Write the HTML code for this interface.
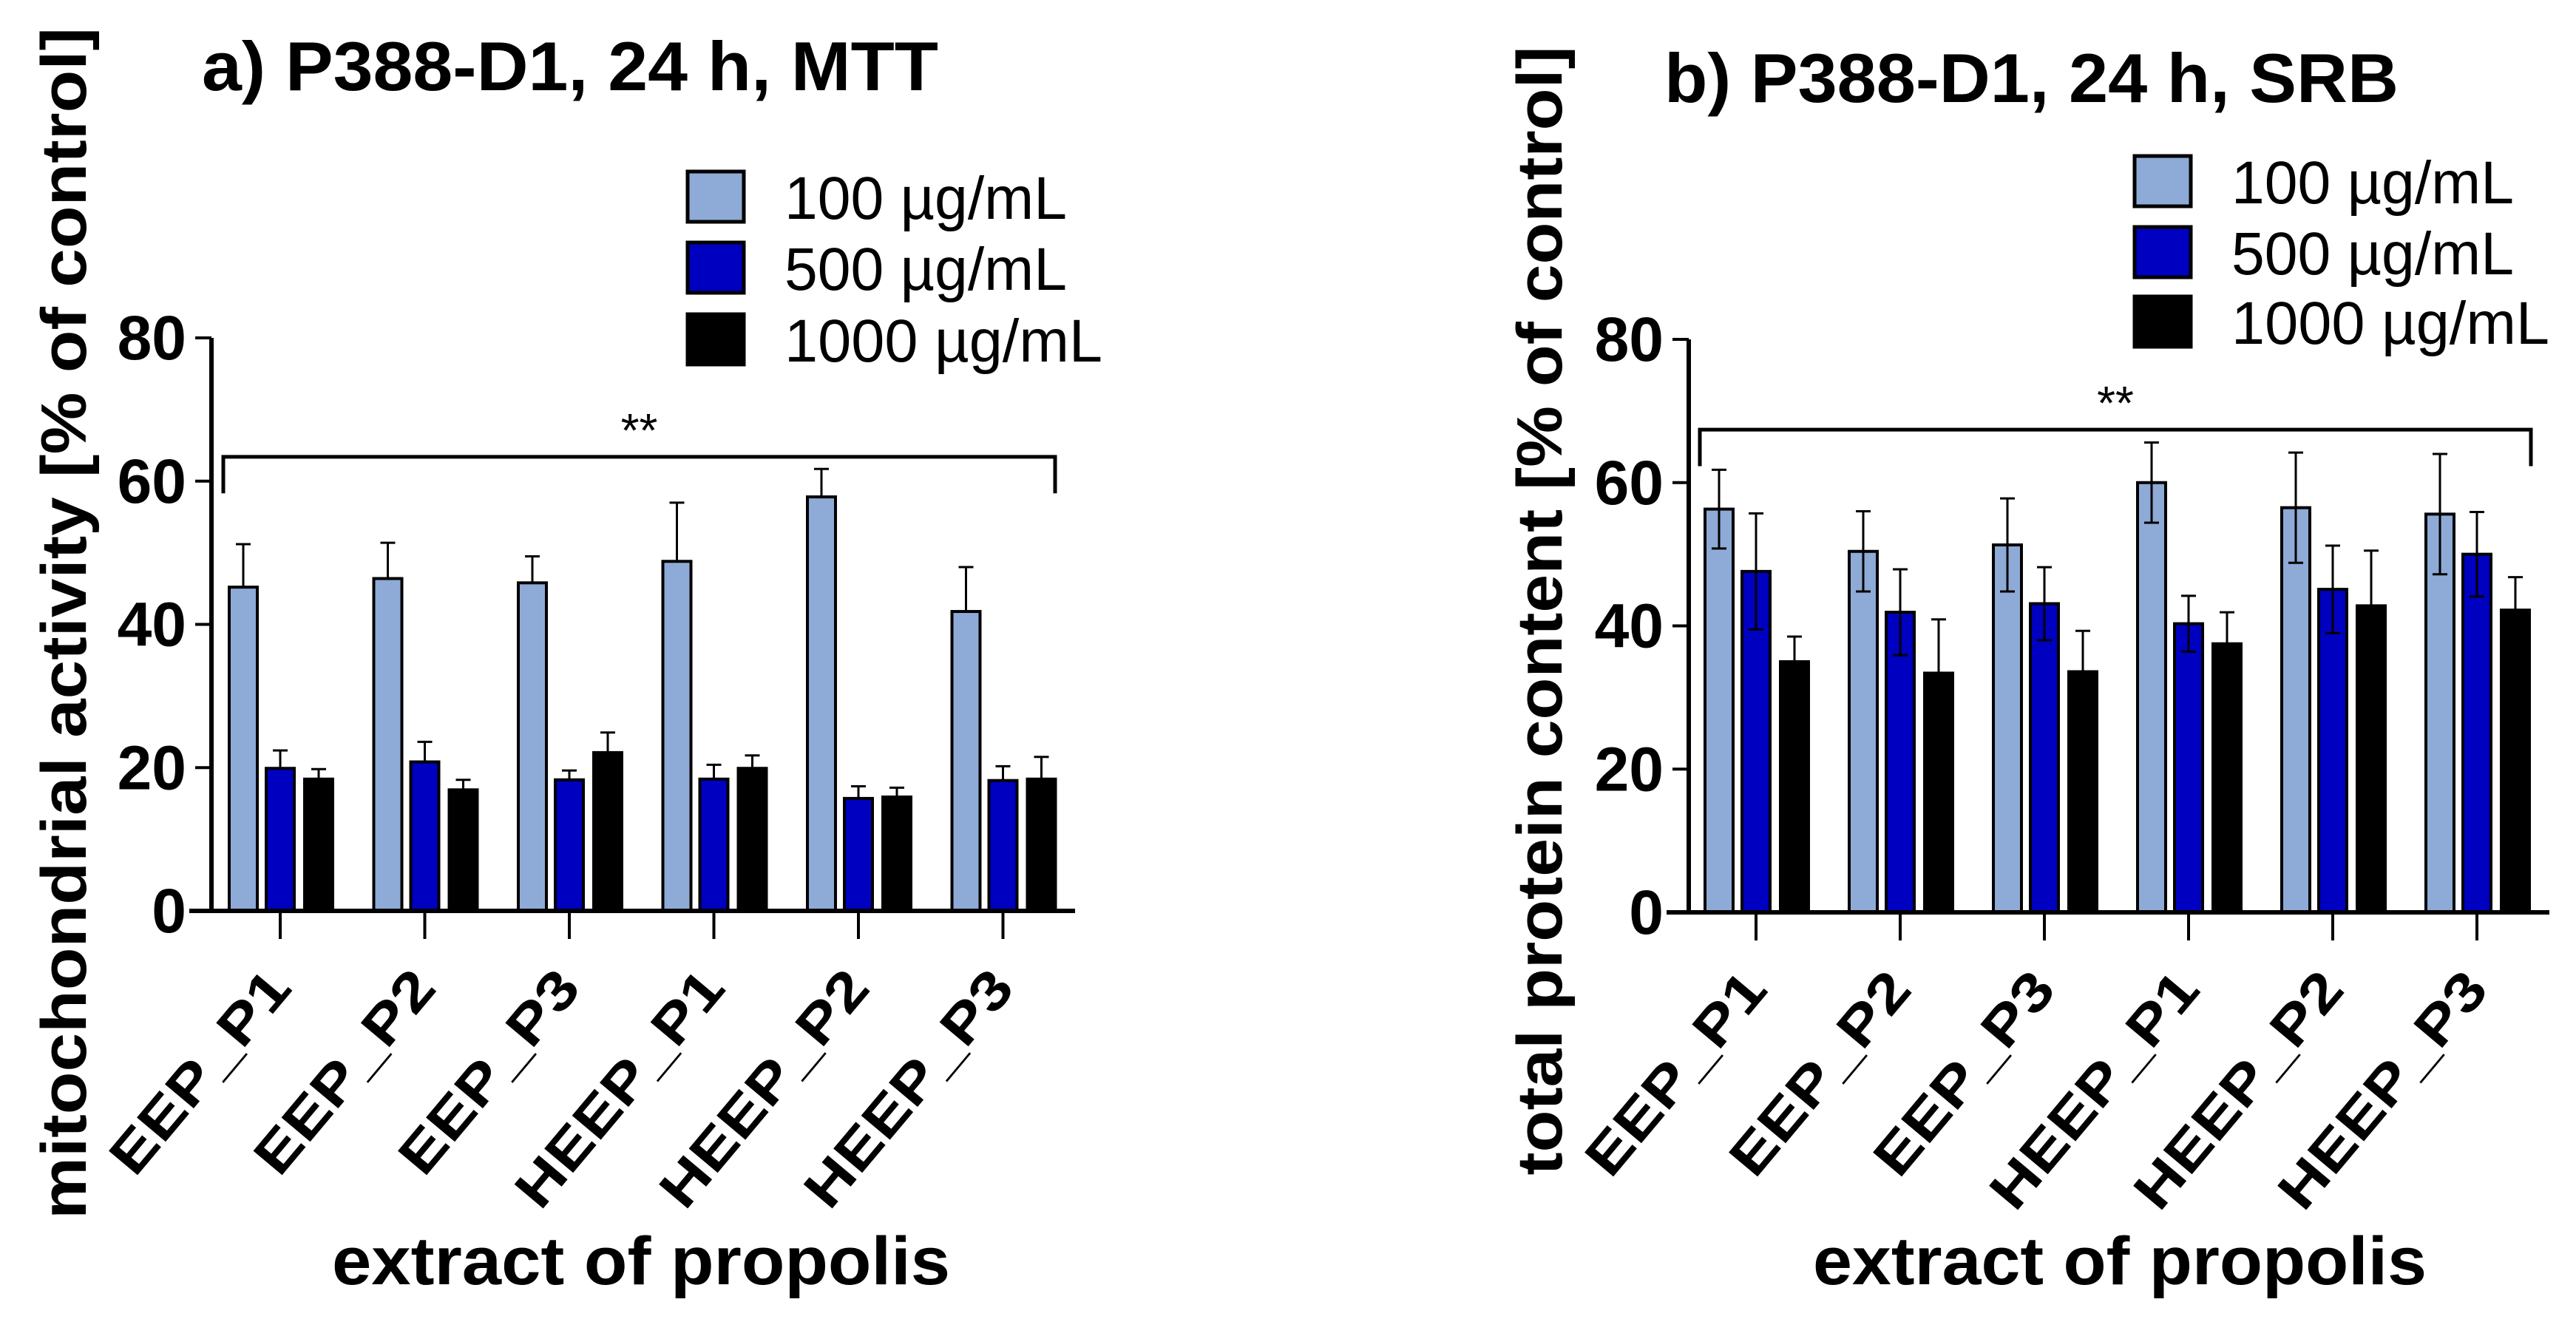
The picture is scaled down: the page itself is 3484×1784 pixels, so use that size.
<!DOCTYPE html>
<html><head><meta charset="utf-8"><style>
html,body{margin:0;padding:0;background:#fff;}
svg{display:block;font-family:"Liberation Sans",Arial,sans-serif;}
</style></head><body>
<svg id="chart" width="3484" height="1784" viewBox="0 0 3484 1784" xmlns="http://www.w3.org/2000/svg"></svg>
<script>
const categories = ["EEP_P1","EEP_P2","EEP_P3","HEEP_P1","HEEP_P2","HEEP_P3"];
const seriesNames = ["100 \u00b5g/mL","500 \u00b5g/mL","1000 \u00b5g/mL"];
const yTicks = [0,20,40,60,80];
// Panel a (MTT)
const mtt100 = [45.2,46.4,45.8,48.8,57.8,41.8];
const mtt100Err = [6.0,5.0,3.7,8.2,3.9,6.2];
const mtt500 = [19.9,20.8,18.3,18.4,15.7,18.2];
const mtt500Err = [2.5,2.8,1.3,2.0,1.7,2.0];
const mtt1000 = [18.4,16.9,22.1,19.9,15.9,18.4];
const mtt1000Err = [1.4,1.4,2.8,1.8,1.3,3.1];
const mttSig = 63.4;
// Panel b (SRB)
const srb100 = [56.3,50.4,51.3,60.0,56.5,55.6];
const srb100Err = [5.5,5.6,6.5,5.6,7.7,8.4];
const srb500 = [47.6,41.9,43.1,40.3,45.1,50.0];
const srb500Err = [8.1,6.0,5.1,3.9,6.1,5.9];
const srb1000 = [35.0,33.4,33.6,37.5,42.8,42.2];
const srb1000Err = [3.5,7.5,5.7,4.4,7.7,4.6];
const srbSig = 67.4;

const NS="http://www.w3.org/2000/svg";
const svg=document.getElementById('chart');
const colors=["#8eaad6","#0000c0","#000000"];
function mk(tag,attrs,parent){const e=document.createElementNS(NS,tag);for(const k in attrs)e.setAttribute(k,attrs[k]);(parent||svg).appendChild(e);return e;}

function panel(cfg){
  const g=mk('g',{});
  
  
  const y=v=>cfg.y0-(v/80)*(cfg.y0-cfg.y80);
  const xc=i=>cfg.tick0+i*cfg.step;
  const offs=[-50,0,52], bw=38;
  const vals=[cfg.s1,cfg.s2,cfg.s3], errs=[cfg.e1,cfg.e2,cfg.e3];
  categories.forEach((c,i)=>{
    for(let s=0;s<3;s++){
      const cx=xc(i)+offs[s], top=y(vals[s][i]);
      const r=mk('rect',{x:cx-bw/2,y:top,width:bw,height:cfg.y0-top,fill:colors[s],stroke:'#000','stroke-width':4},g);
      
      
      const et=y(vals[s][i]+errs[s][i]);
      const eb=cfg.both?y(vals[s][i]-errs[s][i]):top;
      const eg=mk('g',{stroke:'#000','stroke-width':3,fill:'none'},g);
      
      
      mk('line',{x1:cx,y1:et,x2:cx,y2:eb},eg);
      mk('line',{x1:cx-10,y1:et,x2:cx+10,y2:et},eg);
      if(cfg.both) mk('line',{x1:cx-10,y1:eb,x2:cx+10,y2:eb},eg);
    }
  });
  const ax=mk('g',{stroke:'#000','stroke-width':6,fill:'none'},g);
  
  
  mk('line',{x1:cfg.ax,y1:y(80),x2:cfg.ax,y2:cfg.y0+3},ax);
  mk('line',{x1:cfg.ax-30,y1:cfg.y0,x2:cfg.xEnd,y2:cfg.y0},ax);
  yTicks.forEach(t=>{
    mk('line',{x1:cfg.ax-22,y1:y(t),x2:cfg.ax,y2:y(t),'stroke-width':4},ax);
    const tx=mk('text',{x:cfg.ax-34,y:y(t)+29,'text-anchor':'end','font-size':84,'font-weight':'bold',fill:'#000'},g);
    tx.textContent=t;
    
    
  });
  categories.forEach((c,i)=>{
    mk('line',{x1:xc(i),y1:cfg.y0,x2:xc(i),y2:cfg.y0+38,'stroke-width':4},ax);
    const X=xc(i)+18, Y=cfg.y0+106;
    const len=c.length>6?393:334;
    const tx=mk('text',{x:X,y:Y,'text-anchor':'end','font-size':74,'font-weight':'bold',fill:'#000',textLength:len,lengthAdjust:'spacingAndGlyphs',transform:`rotate(-50 ${X} ${Y})`},g);
    tx.textContent=c;
    
    
  });
  const sy=y(cfg.sig), sl=y(cfg.sig-5.1);
  const br=mk('polyline',{points:`${cfg.brL},${sl} ${cfg.brL},${sy} ${cfg.brR},${sy} ${cfg.brR},${sl}`,stroke:'#000','stroke-width':5,fill:'none'},g);
  
  
  const st=mk('text',{x:(cfg.brL+cfg.brR)/2,y:sy-14,'text-anchor':'middle','font-size':64,fill:'#000'},g);
  st.textContent='**';
  
  
  const ti=mk('text',{x:cfg.titleX,y:cfg.titleY,'font-size':94,'font-weight':'bold',fill:'#000',textLength:cfg.titleW,lengthAdjust:'spacingAndGlyphs'},g);
  ti.textContent=cfg.title;
  
  
  const yt=mk('text',{x:0,y:0,'font-size':86,'font-weight':'bold',fill:'#000','text-anchor':'middle',textLength:cfg.ytLen,lengthAdjust:'spacingAndGlyphs',transform:`translate(${cfg.ytX},${cfg.ytY}) rotate(-90)`},g);
  yt.textContent=cfg.ytitle;
  
  
  const xt=mk('text',{x:cfg.xtX,y:1737,'font-size':92,'font-weight':'bold',fill:'#000',textLength:cfg.xtW,lengthAdjust:'spacingAndGlyphs'},g);
  xt.textContent='extract of propolis';
  
  
  for(let s=0;s<3;s++){
    const lg=mk('g',{},g);
    
    
    const ry=cfg.legY[s];
    mk('rect',{x:cfg.legX+2,y:ry+2,width:76,height:68,fill:colors[s],stroke:'#000','stroke-width':5},lg);
    const lt=mk('text',{x:cfg.legX+133,y:ry+66,'font-size':82,fill:'#000',textLength:s==2?430:382,lengthAdjust:'spacingAndGlyphs'},lg);
    lt.textContent=seriesNames[s];
  }
}
panel({name:'panel-a-mtt',y0:1232,y80:457,ax:286,tick0:379,step:195.5,xEnd:1454,
  s1:mtt100,s2:mtt500,s3:mtt1000,e1:mtt100Err,e2:mtt500Err,e3:mtt1000Err,both:false,
  sig:mttSig,brL:302,brR:1427,title:'a) P388-D1, 24 h, MTT',titleX:273,titleY:122,titleW:996,
  ytitle:'mitochondrial activity [% of control]',ytX:116,ytY:843,ytLen:1612,xtX:449,xtW:836,
  legX:928,legY:[230,326,423]});
panel({name:'panel-b-srb',y0:1234,y80:459,ax:2284,tick0:2375,step:195,xEnd:3448,
  s1:srb100,s2:srb500,s3:srb1000,e1:srb100Err,e2:srb500Err,e3:srb1000Err,both:true,
  sig:srbSig,brL:2299,brR:3423,title:'b) P388-D1, 24 h, SRB',titleX:2251,titleY:138,titleW:993,
  ytitle:'total protein content [% of control]',ytX:2112,ytY:826,ytLen:1527,xtX:2452,xtW:830,
  legX:2885,legY:[209,305,399]});
</script>
</body></html>
